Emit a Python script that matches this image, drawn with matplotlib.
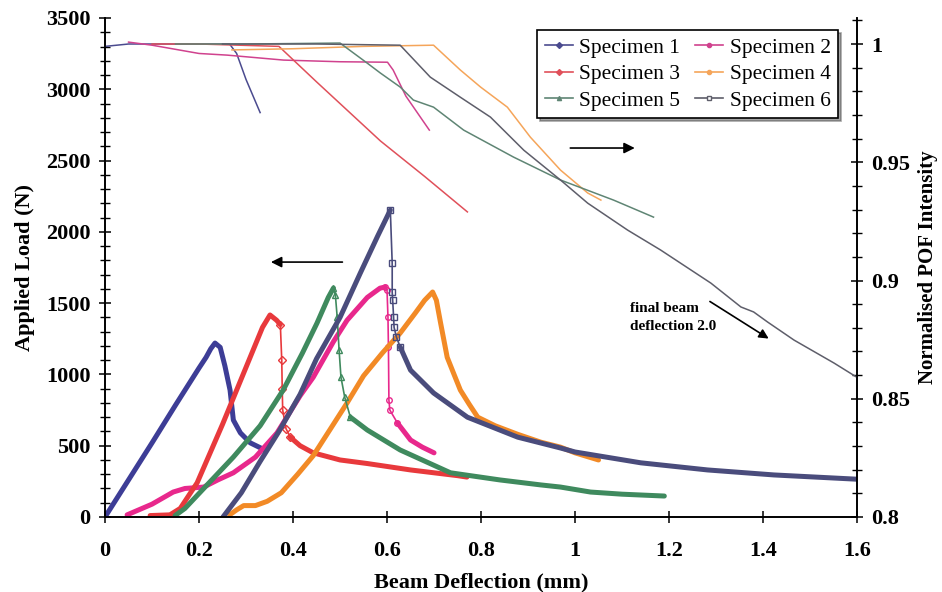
import matplotlib
matplotlib.use("Agg")
import matplotlib.pyplot as plt
from matplotlib.lines import Line2D
from matplotlib.ticker import MultipleLocator, FormatStrFormatter
import numpy as np

plt.rcParams['font.family'] = ['Liberation Serif', 'DejaVu Serif']

names = ['Specimen 1', 'Specimen 2', 'Specimen 3', 'Specimen 4', 'Specimen 5', 'Specimen 6']

# load-deflection curves (left axis, N)
load_x = [
    [0, 0.05, 0.10, 0.15, 0.20, 0.215, 0.225, 0.234, 0.245, 0.255, 0.266, 0.273, 0.288, 0.309, 0.34],
    [0.047, 0.10, 0.145, 0.17, 0.21, 0.24, 0.273, 0.32, 0.366, 0.415, 0.443, 0.486, 0.515, 0.558, 0.585, 0.596,
     0.600, 0.602, 0.603, 0.604, 0.606, 0.622, 0.65, 0.675, 0.70],
    [0.096, 0.138, 0.16, 0.196, 0.25, 0.30, 0.335, 0.351, 0.365, 0.373, 0.376, 0.377, 0.378, 0.385,
     0.394, 0.415, 0.443, 0.50, 0.558, 0.65, 0.75, 0.77],
    [0.265, 0.28, 0.295, 0.32, 0.345, 0.375, 0.41, 0.443, 0.48, 0.515, 0.55, 0.59, 0.628, 0.66, 0.68, 0.697,
     0.705, 0.714, 0.728, 0.745, 0.756, 0.775, 0.793, 0.83, 0.878, 0.927, 0.969, 1.0, 1.05],
    [0.149, 0.17, 0.21, 0.273, 0.33, 0.379, 0.42, 0.451, 0.475, 0.486, 0.49, 0.494, 0.498, 0.502, 0.51,
     0.522, 0.558, 0.628, 0.735, 0.84, 0.927, 0.969, 1.033, 1.10, 1.19],
    [0.251, 0.29, 0.33, 0.37, 0.415, 0.45, 0.50, 0.543, 0.58, 0.607, 0.611, 0.611, 0.612, 0.614, 0.615,
     0.62, 0.628, 0.65, 0.699, 0.771, 0.878, 0.969, 1.0, 1.14, 1.282, 1.423, 1.60],
]
load_y = [
    [0, 260, 520, 785, 1045, 1120, 1180, 1220, 1190, 1060, 890, 680, 590, 520, 470],
    [15, 90, 175, 200, 210, 260, 310, 420, 590, 850, 980, 1230, 1380, 1540, 1605, 1613,
     1590, 1400, 1190, 820, 750, 660, 540, 490, 450],
    [10, 15, 60, 240, 650, 1050, 1330, 1417, 1380, 1350, 1100, 900, 750, 620,
     560, 500, 450, 400, 375, 330, 290, 280],
    [15, 50, 80, 80, 110, 170, 300, 430, 620, 800, 990, 1150, 1290, 1430, 1520, 1578,
     1520, 1360, 1120, 980, 890, 790, 700, 640, 580, 525, 490, 450, 400],
    [10, 60, 200, 420, 640, 890, 1150, 1360, 1540, 1606, 1560, 1400, 1170, 980, 840,
     700, 610, 470, 310, 260, 225, 210, 175, 160, 147],
    [0, 170, 390, 600, 860, 1110, 1400, 1710, 1970, 2153, 1780, 1580, 1520, 1400, 1330,
     1262, 1192, 1030, 870, 700, 560, 484, 456, 380, 330, 295, 265],
]

# normalised POF intensity (right axis)
pof_x = [
    [0, 0.05, 0.265, 0.28, 0.30, 0.33],
    [0.05, 0.10, 0.20, 0.26, 0.38, 0.50, 0.601, 0.613, 0.64, 0.69],
    [0.10, 0.20, 0.37, 0.45, 0.586, 0.68, 0.771],
    [0.27, 0.40, 0.55, 0.699, 0.756, 0.799, 0.856, 0.905, 0.969, 1.027, 1.055],
    [0.15, 0.30, 0.50, 0.558, 0.586, 0.628, 0.656, 0.699, 0.763, 0.869, 0.969, 1.082, 1.167],
    [0.25, 0.45, 0.628, 0.692, 0.756, 0.82, 0.891, 0.969, 1.027, 1.112, 1.182, 1.289, 1.353, 1.38, 1.41,
     1.466, 1.551, 1.602],
]
pof_y = [
    [0.999, 1.0, 1.0, 0.996, 0.985, 0.971],
    [1.0008, 0.9995, 0.996, 0.9953, 0.9932, 0.9925, 0.9923, 0.989, 0.978, 0.9636],
    [1.0, 1.0, 0.999, 0.984, 0.959, 0.944, 0.929],
    [0.9975, 0.998, 0.999, 0.9995, 0.989, 0.9818, 0.9733, 0.9606, 0.9467, 0.937, 0.934],
    [1.0, 1.0, 1.0004, 0.9919, 0.9877, 0.9818, 0.9763, 0.9733, 0.9636, 0.9522, 0.9425, 0.934, 0.9268],
    [1.0, 1.0, 0.9995, 0.986, 0.9775, 0.9691, 0.9551, 0.9425, 0.9327, 0.9213, 0.9129, 0.8989, 0.8888,
     0.8867, 0.8824, 0.8748, 0.8651, 0.8588],
]

load_colors = ['#3d3d96', '#e8288c', '#e8393c', '#f28a26', '#3f8a5e', '#4a4c7c']
pof_colors = ['#4b4b8f', '#d0428e', '#e0505a', '#f5a55a', '#5f8574', '#5e5e6a']
markers = ['D', 'o', 'D', 'o', '^', 's']
# index ranges drawn as thin lines with markers (sudden load drops)
thin = {1: (15, 21), 2: (9, 14), 4: (9, 15), 5: (9, 16)}

fig = plt.figure(figsize=(9.42, 5.92), dpi=100)
ax = fig.add_axes([0.1115, 0.1267, 0.7983, 0.8429])
ax2 = ax.twinx()

lw_thick = 3.6
for i in range(6):
    x = np.array(load_x[i])
    y = np.array(load_y[i])
    if i in thin:
        a, b = thin[i]
        ax.plot(x[:a + 1], y[:a + 1], color=load_colors[i], lw=lw_thick, solid_capstyle='round')
        ax.plot(x[a:b + 1], y[a:b + 1], color=load_colors[i], lw=1.2,
                marker=markers[i], ms=4, mfc='none', mew=1)
        ax.plot(x[b:], y[b:], color=load_colors[i], lw=lw_thick, solid_capstyle='round')
    else:
        ax.plot(x, y, color=load_colors[i], lw=lw_thick, solid_capstyle='round')

for i in range(6):
    ax2.plot(pof_x[i], pof_y[i], color=pof_colors[i], lw=1.1)

ax.set_xlim(0, 1.6)
ax.set_ylim(0, 3500)
ax2.set_ylim(0.8, 1.011)

ax.xaxis.set_major_locator(MultipleLocator(0.2))
ax.xaxis.set_major_formatter(FormatStrFormatter('%g'))
ax.yaxis.set_major_locator(MultipleLocator(500))
ax.yaxis.set_minor_locator(MultipleLocator(100))
ax2.yaxis.set_major_locator(MultipleLocator(0.05))
ax2.yaxis.set_minor_locator(MultipleLocator(0.01))
ax2.yaxis.set_major_formatter(FormatStrFormatter('%g'))

for a in (ax, ax2):
    a.spines['top'].set_visible(False)
    for s in a.spines.values():
        s.set_linewidth(1.2)
    a.tick_params(which='major', direction='inout', length=9, width=1.1, labelsize=16, pad=6)
    a.tick_params(which='minor', direction='inout', length=7, width=1)
ax.tick_params(axis='x', pad=13)
ax2.set_yticks([0.8, 0.85, 0.9, 0.95, 1.0])
for a in (ax, ax2):
    for lab in a.get_xticklabels() + a.get_yticklabels():
        lab.set_fontweight('bold')

ax.set_xlabel('Beam Deflection (mm)', fontsize=16, fontweight='bold', labelpad=8)
ax.set_ylabel('Applied Load (N)', fontsize=16, fontweight='bold', labelpad=8)
ax2.set_ylabel('Normalised POF Intensity', fontsize=15, fontweight='bold', labelpad=5)

# direction arrows and note
ax.annotate('', xy=(0.347, 1788), xytext=(0.511, 1788),
            arrowprops=dict(arrowstyle='-|>', color='black', lw=1.2, mutation_scale=16))
ax.annotate('', xy=(1.133, 2588), xytext=(0.984, 2588),
            arrowprops=dict(arrowstyle='-|>', color='black', lw=1.2, mutation_scale=16))
ax.annotate('', xy=(1.417, 1241), xytext=(1.282, 1522),
            arrowprops=dict(arrowstyle='-|>', color='black', lw=1.2, mutation_scale=14))
ax.text(1.118, 1510, 'final beam\ndeflection 2.0', fontsize=11, fontweight='bold',
        va='top', ha='left', linespacing=1.5)

order = [0, 2, 4, 1, 3, 5]
handles = [Line2D([], [], color=pof_colors[i], lw=1.2, marker=markers[i], ms=3,
                  mfc='white' if i == 5 else pof_colors[i]) for i in order]
leg = ax2.legend(handles, [names[i] for i in order], ncol=2, loc='upper right',
                 bbox_to_anchor=(0.975, 0.976), borderaxespad=0, fontsize=15.5,
                 frameon=True, fancybox=False, shadow=True, edgecolor='black',
                 handlelength=1.3, handletextpad=0.3, columnspacing=0.7,
                 labelspacing=0.3, borderpad=0.35)
leg.get_frame().set_linewidth(1.2)

fig.savefig('out.png', dpi=100)
